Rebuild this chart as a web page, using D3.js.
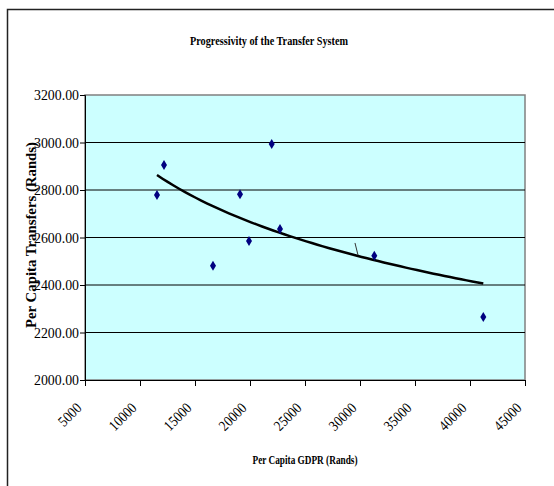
<!DOCTYPE html>
<html lang="en">
<head>
  <meta charset="UTF-8">
  <title>Progressivity of the Transfer System</title>
  <script src="https://cdnjs.cloudflare.com/ajax/libs/d3/7.8.5/d3.min.js"></script>
  <style>
    body { margin: 0; background: #fff; }
    svg { display: block; font-family: "Liberation Serif", "Times New Roman", serif; }
  </style>
</head>
<body>
  <svg></svg>
  <script>
    // per capita GDPR (x) and per capita transfers (y)
    const gdpr = [11545, 12182, 16636, 19091, 19909, 21973, 22727, 31300, 41209];
    const transfers = [2779, 2905, 2481, 2782, 2585, 2994, 2636, 2523, 2265];
    const xTicks = [5000, 10000, 15000, 20000, 25000, 30000, 35000, 40000, 45000];
    const yTicks = [2000, 2200, 2400, 2600, 2800, 3000, 3200];
    // stray little leader line left on the chart
    const leaderX = [29545, 29818];
    const leaderY = [2577, 2526];

    const width = 554, height = 486;
    const svg = d3.select('svg').attr('width', width).attr('height', height);

    const x = d3.scaleLinear().domain([5000, 45000]).range([85, 525]);
    const y = d3.scaleLinear().domain([2000, 3200]).range([380, 95]);

    // outer chart frame (only top/left show in the window)
    svg.append('rect')
      .attr('x', 7.5).attr('y', 9.5)
      .attr('width', 600).attr('height', 600)
      .style('fill', 'none').style('stroke', '#222').style('stroke-width', 1.5);

    svg.append('text')
      .attr('x', 269).attr('y', 45)
      .attr('text-anchor', 'middle')
      .attr('textLength', 158).attr('lengthAdjust', 'spacingAndGlyphs')
      .style('font-size', '13px').style('font-weight', 'bold')
      .text('Progressivity of the Transfer System');

    // plot area
    svg.append('rect')
      .attr('x', x(5000)).attr('y', y(3200))
      .attr('width', x(45000) - x(5000)).attr('height', y(2000) - y(3200))
      .style('fill', '#ccffff').style('stroke', '#808080').style('stroke-width', 1.5);

    // gridlines
    svg.append('g')
      .selectAll('line')
      .data(yTicks.filter(d => d > 2000 && d < 3200))
      .enter()
      .append('line')
      .attr('x1', x(5000)).attr('x2', x(45000))
      .attr('y1', d => y(d)).attr('y2', d => y(d))
      .style('stroke', '#000').style('stroke-width', 1);

    // y axis
    const yAxis = svg.append('g')
      .attr('transform', `translate(${x(5000)},0)`)
      .call(d3.axisLeft(y).tickValues(yTicks).tickSize(5).tickFormat(d3.format('.2f')));
    yAxis.select('.domain').style('stroke', '#000');
    yAxis.selectAll('text')
      .attr('x', -6)
      .attr('textLength', 45).attr('lengthAdjust', 'spacingAndGlyphs')
      .style('font-family', '"Liberation Serif", serif')
      .style('font-size', '15px').style('fill', '#000');

    // x axis
    const xAxis = svg.append('g')
      .attr('transform', `translate(0,${y(2000)})`)
      .call(d3.axisBottom(x).tickValues(xTicks).tickSize(6).tickFormat(d3.format('d')));
    xAxis.select('.domain').style('stroke', '#000');
    xAxis.selectAll('text')
      .attr('text-anchor', 'end')
      .attr('x', 0).attr('y', 0).attr('dy', 0)
      .attr('transform', 'translate(-3,29) rotate(-45)')
      .attr('textLength', d => d < 10000 ? 26 : 32).attr('lengthAdjust', 'spacingAndGlyphs')
      .style('font-family', '"Liberation Serif", serif')
      .style('font-size', '15px').style('fill', '#000');

    // axis titles
    svg.append('text')
      .attr('transform', 'translate(36,235) rotate(-90)')
      .attr('text-anchor', 'middle')
      .attr('textLength', 186).attr('lengthAdjust', 'spacingAndGlyphs')
      .style('font-size', '14px').style('font-weight', 'bold')
      .text('Per Capita Transfers (Rands)');

    svg.append('text')
      .attr('x', 305).attr('y', 464)
      .attr('text-anchor', 'middle')
      .attr('textLength', 105).attr('lengthAdjust', 'spacingAndGlyphs')
      .style('font-size', '13px').style('font-weight', 'bold')
      .text('Per Capita GDPR (Rands)');

    // logarithmic trend line fitted to the points (least squares on ln x)
    const lx = gdpr.map(Math.log);
    const mx = d3.mean(lx), my = d3.mean(transfers);
    const b = d3.sum(lx, (v, i) => (v - mx) * (transfers[i] - my)) / d3.sum(lx, v => (v - mx) ** 2);
    const a = my - b * mx;
    const trendXs = d3.range(60).map(i => d3.min(gdpr) + (d3.max(gdpr) - d3.min(gdpr)) * i / 59);
    svg.append('path')
      .datum(trendXs)
      .attr('d', d3.line().x(d => x(d)).y(d => y(a + b * Math.log(d))))
      .style('fill', 'none').style('stroke', '#000').style('stroke-width', 2.5);

    svg.append('line')
      .attr('x1', x(leaderX[0])).attr('y1', y(leaderY[0]))
      .attr('x2', x(leaderX[1])).attr('y2', y(leaderY[1]))
      .style('stroke', '#333').style('stroke-width', 1);

    // markers: navy diamonds
    svg.append('g')
      .selectAll('path')
      .data(gdpr)
      .enter()
      .append('path')
      .attr('transform', (d, i) => `translate(${x(d)},${y(transfers[i])})`)
      .attr('d', 'M0,-5L3,0L0,5L-3,0Z')
      .style('fill', '#000080');
  </script>
</body>
</html>
